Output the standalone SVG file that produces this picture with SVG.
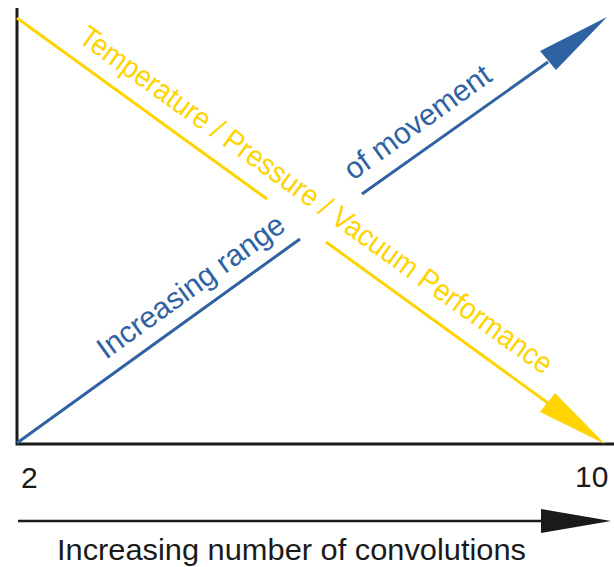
<svg xmlns="http://www.w3.org/2000/svg" width="614" height="567" viewBox="0 0 614 567">
  <style>
    .axis { stroke: #1a1a1a; stroke-width: 3; fill: none; }
    .yl { stroke: #FFD400; stroke-width: 3; fill: none; }
    .bl { stroke: #2F62A3; stroke-width: 3; fill: none; }
    .t { font-family: "Liberation Sans", Arial, sans-serif; font-size: 30px; }
    .ytxt { fill: #FFD400; }
    .btxt { fill: #2F62A3; }
    .ktxt { fill: #1a1a1a; }
  </style>
  <rect width="614" height="567" fill="#ffffff"/>
  <g id="axes">
    <path class="axis" d="M17,8 V444 H614"/>
  </g>
  <g id="connectors">
    <path class="yl" d="M17,18 L267,199 M326,242 L548,403"/>
    <polygon fill="#FFD400" points="605,444 540,412 555,393"/>
    <path class="bl" d="M17,443 L300,239 M362,194 L548,62"/>
    <polygon fill="#2F62A3" points="607,17 540,51 556,70"/>
    <path stroke="#1a1a1a" stroke-width="2.5" d="M18,521 H545"/>
    <polygon fill="#1a1a1a" points="611,521 541,509 541,533"/>
  </g>
  <g id="label-yellow">
    <text class="t ytxt" transform="translate(77,41) rotate(35.6)" textLength="574" lengthAdjust="spacingAndGlyphs">Temperature / Pressure / Vacuum Performance</text>
  </g>
  <g id="label-blue">
    <text class="t btxt" transform="translate(106,360) rotate(-35.8)">Increasing range</text>
    <text class="t btxt" transform="translate(353,181) rotate(-35.8)">of movement</text>
  </g>
  <g id="x-labels">
    <text class="t ktxt" x="21" y="488">2</text>
    <text class="t ktxt" x="575" y="487">10</text>
    <text class="t ktxt" x="57" y="560" textLength="469" lengthAdjust="spacingAndGlyphs">Increasing number of convolutions</text>
  </g>
</svg>
